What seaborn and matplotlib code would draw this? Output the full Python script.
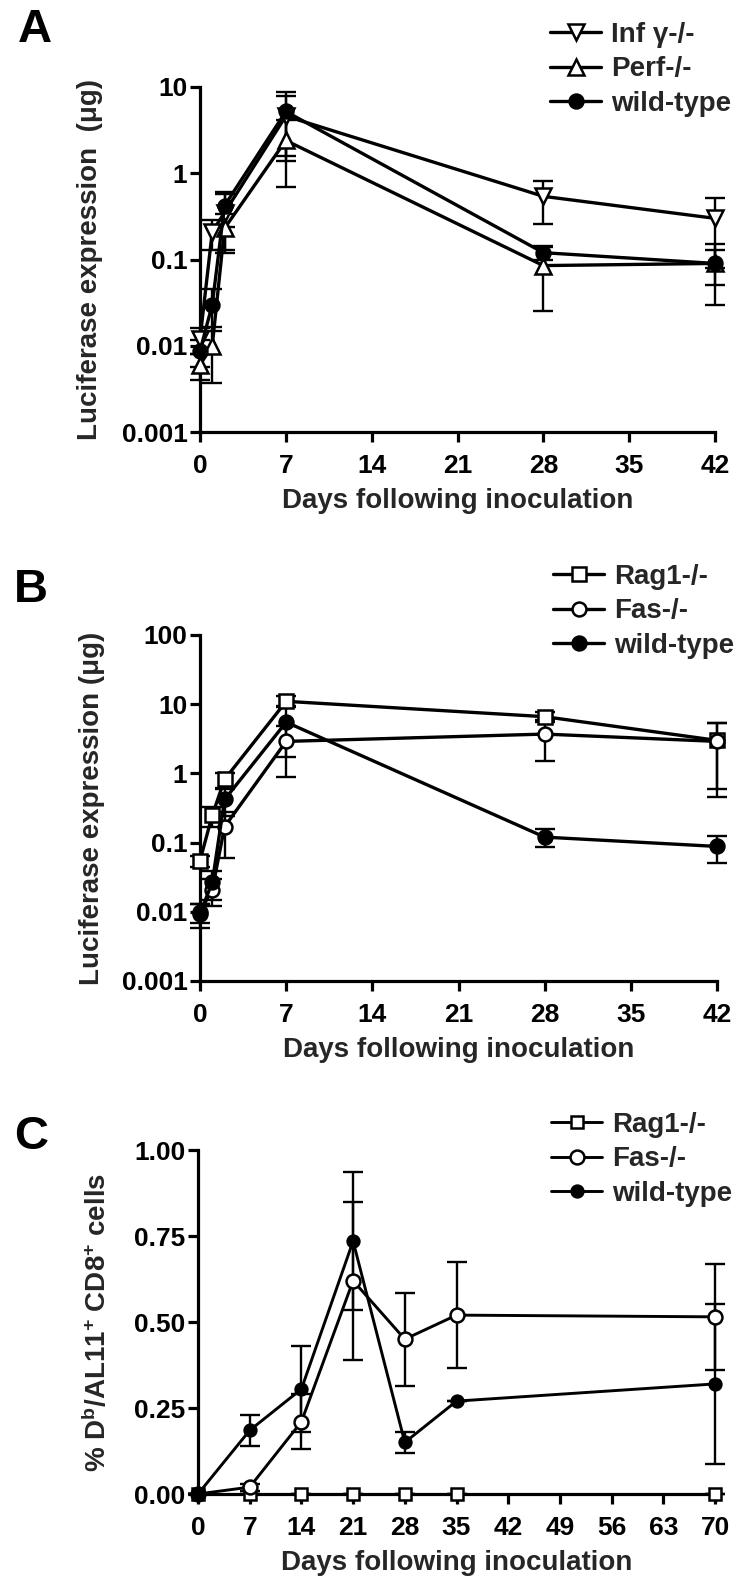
import numpy as np
import pandas as pd
import matplotlib
matplotlib.use('Agg')
import matplotlib.pyplot as plt
from matplotlib.ticker import NullLocator
import seaborn as sns

# ---------------- data ----------------
days_ab = [0, 1, 2, 7, 28, 42]

# Panel A
infg_a = [0.012, 0.21, 0.35, 4.6, 0.54, 0.30]
infg_a_err = [0.004, 0.08, 0.22, 3.2, 0.28, 0.22]
perf_a = [0.006, 0.010, 0.23, 2.4, 0.085, 0.090]
perf_a_err = [0.002, 0.0063, 0.11, 1.7, 0.06, 0.06]
wt_a = [0.0087, 0.030, 0.42, 5.2, 0.12, 0.090]
wt_a_err = [0.003, 0.015, 0.18, 3.6, 0.02, 0.04]

# Panel B
rag_b = [0.055, 0.25, 0.82, 11.0, 6.6, 3.0]
rag_b_err = [0.01, 0.08, 0.2, 2.0, 1.0, 2.4]
fas_b = [0.010, 0.021, 0.17, 2.9, 3.7, 2.9]
fas_b_err = [0.003, 0.009, 0.11, 2.0, 2.2, 2.45]
wt_b = [0.0093, 0.027, 0.42, 5.5, 0.12, 0.088]
wt_b_err = [0.0035, 0.012, 0.18, 3.8, 0.035, 0.037]

# Panel C
days_c = [0, 7, 14, 21, 28, 35, 70]
rag_c = [0, 0, 0, 0, 0, 0, 0]
rag_c_err = [0, 0, 0, 0, 0, 0, 0]
fas_c = [0, 0.02, 0.21, 0.62, 0.45, 0.52, 0.515]
fas_c_err = [0, 0.01, 0.08, 0.23, 0.135, 0.155, 0.155]
wt_c = [0, 0.185, 0.305, 0.735, 0.15, 0.27, 0.32]
wt_c_err = [0, 0.045, 0.125, 0.20, 0.03, 0.0, 0.233]

log_ticks_a = [0.001, 0.01, 0.1, 1, 10]
log_labels_a = ['0.001', '0.01', '0.1', '1', '10']
log_ticks_b = [0.001, 0.01, 0.1, 1, 10, 100]
log_labels_b = ['0.001', '0.01', '0.1', '1', '10', '100']
lin_ticks_c = [0, 0.25, 0.5, 0.75, 1.0]
lin_labels_c = ['0.00', '0.25', '0.50', '0.75', '1.00']
xticks_ab = [0, 7, 14, 21, 28, 35, 42]
xticks_c = [0, 7, 14, 21, 28, 35, 42, 49, 56, 63, 70]

# ---------------- style ----------------
sns.set_theme(style='ticks')
plt.rcParams['font.family'] = ['Liberation Sans', 'DejaVu Sans']
plt.rcParams['font.weight'] = 'bold'
plt.rcParams['axes.labelweight'] = 'bold'
plt.rcParams['mathtext.fontset'] = 'custom'
plt.rcParams['mathtext.rm'] = 'Liberation Sans:bold'
plt.rcParams['mathtext.bf'] = 'Liberation Sans:bold'
plt.rcParams['mathtext.it'] = 'Liberation Sans:bold'
plt.rcParams['mathtext.sf'] = 'Liberation Sans:bold'

W, H = 750, 1584
fig = plt.figure(figsize=(W / 100, H / 100), dpi=100)


def add_ax(x0, x1, ytop, ybot):
    return fig.add_axes([x0 / W, 1 - ybot / H, (x1 - x0) / W, (ybot - ytop) / H])


def draw(ax, x, y, err, marker, fc, ms, label, lw, elw=1.7, cap=7.5):
    cont = ax.errorbar(x, y, yerr=err, fmt='none', ecolor='black',
                       elinewidth=elw, capsize=cap, capthick=elw, zorder=2)
    for art in list(cont.lines[1]) + list(cont.lines[2]):
        art.set_clip_on(False)
    df = pd.DataFrame({'day': x, 'value': y})
    sns.lineplot(data=df, x='day', y='value', ax=ax, color='black',
                 marker=marker, markersize=ms, markerfacecolor=fc,
                 markeredgecolor='black', markeredgewidth=1.8,
                 linewidth=lw, clip_on=False, zorder=3, errorbar=None,
                 legend=False, sort=False)
    line = ax.lines[-1]
    line.set_label(label)
    return line


def style_axis(ax):
    sns.despine(ax=ax)
    for s in ['left', 'bottom']:
        ax.spines[s].set_linewidth(2.3)
        ax.spines[s].set_color('black')
    ax.tick_params(axis='both', which='major', length=7, width=2.3,
                   labelsize=19, color='black', labelcolor='black', direction='out')
    ax.tick_params(axis='x', pad=9)
    ax.tick_params(axis='y', pad=2)
    ax.set_facecolor('white')


def legend(ax, handles, x, ytop):
    ax.legend(handles=handles, loc='upper left',
              bbox_to_anchor=(x / W, 1 - ytop / H), bbox_transform=fig.transFigure,
              frameon=False, fontsize=20, handlelength=1.85, handletextpad=0.35,
              labelspacing=0.3, borderpad=0, borderaxespad=0, numpoints=1)


def labels(ax, ylabel, ylx):
    ax.set_xlabel('Days following inoculation', fontsize=20, fontweight='bold')
    ax.set_ylabel(ylabel, fontsize=20, fontweight='bold')
    ax.xaxis.set_label_coords(0.5, -0.2)
    ax.xaxis.label.set_va('center')
    ax.yaxis.set_label_coords(ylx, 0.5)
    ax.yaxis.label.set_va('center')


# ---------------- Panel A ----------------
axA = add_ax(200, 715, 87, 432)
axA.set_yscale('log')
hA = [
    draw(axA, days_ab, infg_a, infg_a_err, 'v', 'white', 11, 'Inf \u03b3-/-', 2.4),
    draw(axA, days_ab, perf_a, perf_a_err, '^', 'white', 11, 'Perf-/-', 2.4),
    draw(axA, days_ab, wt_a, wt_a_err, 'o', 'black', 10, 'wild-type', 2.4),
]
axA.set_xlim(0, 42)
axA.set_ylim(0.001, 10)
axA.set_xticks(xticks_ab)
axA.set_yticks(log_ticks_a, log_labels_a)
axA.yaxis.set_minor_locator(NullLocator())
style_axis(axA)
labels(axA, 'Luciferase expression  (\u03bcg)', -0.214)
legend(axA, hA, 550, 22)

# ---------------- Panel B ----------------
axB = add_ax(200, 717, 635, 981)
axB.set_yscale('log')
hB = [
    draw(axB, days_ab, rag_b, rag_b_err, 's', 'white', 10, 'Rag1-/-', 2.4),
    draw(axB, days_ab, fas_b, fas_b_err, 'o', 'white', 10, 'Fas-/-', 2.4),
    draw(axB, days_ab, wt_b, wt_b_err, 'o', 'black', 10, 'wild-type', 2.4),
]
axB.set_xlim(0, 42)
axB.set_ylim(0.001, 100)
axB.set_xticks(xticks_ab)
axB.set_yticks(log_ticks_b, log_labels_b)
axB.yaxis.set_minor_locator(NullLocator())
style_axis(axB)
labels(axB, 'Luciferase expression (\u03bcg)', -0.208)
legend(axB, hB, 553, 564)

# ---------------- Panel C ----------------
axC = add_ax(198, 715, 1150, 1494)
hC = [
    draw(axC, days_c, rag_c, rag_c_err, 's', 'white', 8.5, 'Rag1-/-', 2.1),
    draw(axC, days_c, fas_c, fas_c_err, 'o', 'white', 10, 'Fas-/-', 2.1),
    draw(axC, days_c, wt_c, wt_c_err, 'o', 'black', 8.5, 'wild-type', 2.1),
]
axC.set_xlim(0, 70)
axC.set_ylim(0, 1.0)
axC.set_xticks(xticks_c)
axC.set_yticks(lin_ticks_c, lin_labels_c)
style_axis(axC)
labels(axC, r'% D$^{\mathrm{b}}$/AL11$^{+}$ CD8$^{+}$ cells', -0.195)
legend(axC, hC, 551, 1112)

# panel letters
for letter, (lx, ly) in zip(['A', 'B', 'C'], [(35, 30), (31, 590), (31, 1137)]):
    fig.text(lx / W, 1 - ly / H, letter, fontsize=34, fontweight='bold',
             ha='center', va='center', color='black')

fig.savefig('out.png', dpi=100, facecolor='white')
